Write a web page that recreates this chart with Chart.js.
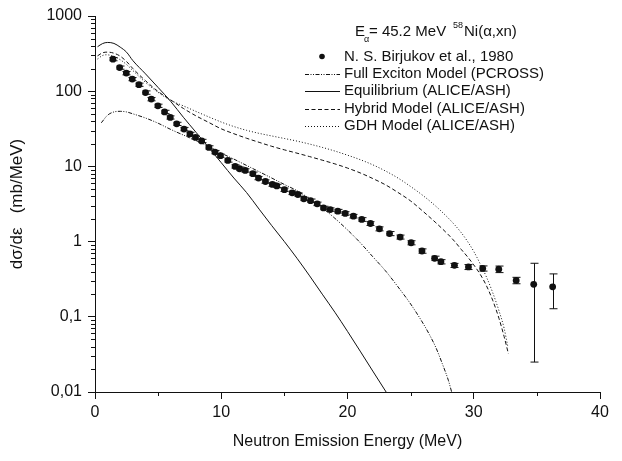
<!DOCTYPE html>
<html><head><meta charset="utf-8">
<script src="https://cdn.jsdelivr.net/npm/chart.js@4.4.0/dist/chart.umd.min.js"></script>
<style>html,body{margin:0;padding:0;background:#fff;}canvas{display:block;}</style>
</head><body>
<canvas id="c" width="622" height="461"></canvas>
<script>
// Experimental data: N. S. Birjukov et al., 1980
const expE = [1.42,1.95,2.48,2.95,3.48,4.0,4.46,4.98,5.51,5.96,6.47,7.05,7.52,7.96,8.45,9.02,9.5,9.94,10.52,11.1,11.45,11.9,12.5,12.95,13.5,14.05,14.4,15.0,15.62,16.07,16.54,17.07,17.6,18.1,18.63,19.23,19.82,20.47,21.13,21.82,22.53,23.33,24.17,25.04,25.9,26.9,27.4,28.47,29.58,30.71,31.98,33.36,34.75,36.25];
const expY = [267,206,174,145,122,96,78.5,64,53,44.8,36.8,31.4,27,24.3,21.8,17.9,15.5,13.9,12.0,10.0,9.3,8.85,8.0,7.0,6.3,5.75,5.5,4.9,4.45,4.23,3.7,3.5,3.18,2.8,2.67,2.54,2.37,2.18,1.97,1.74,1.48,1.28,1.15,0.966,0.75,0.6,0.54,0.483,0.46,0.44,0.43,0.305,0.27,0.25];
const expErr = [13,10,9,7,6,5,4,3.2,2.7,2.2,1.8,1.6,1.4,1.2,1.1,0.9,0.8,0.7,0.6,0.5,0.5,0.45,0.4,0.35,0.32,0.3,0.28,0.25,0.23,0.22,0.19,0.18,0.17,0.15,0.14,0.14,0.13,0.12,0.11,0.1,0.09,0.08,0.07,0.06,0.05,0.04,0.035,0.03,0.035,0.035,0.043,0.03,0.245,0.122];

// Full Exciton Model (PCROSS)
const excE = [0.5,1.0,1.5,2.0,2.5,3.0,4.0,5.0,6.0,7.5,9.0,10,11,12,13,14,15,16,17,18,19,20,21,22,23,24,25,26,26.5,27,27.5,28,28.25];
const excY = [38,48,53,54,53,50,44,37.5,31,24,18.5,15,12.5,10.3,8.5,7.0,5.75,4.75,3.72,2.82,2.04,1.43,0.97,0.63,0.41,0.25,0.148,0.081,0.0575,0.039,0.024,0.0141,0.01];

// Equilibrium (ALICE/ASH)
const eqE = [0.2,0.6,1.0,1.5,2.0,2.5,3,4,5,6,7,8,9,10,11,12,13,14,15,16,17,18,19,20,21,22,23.06];
const eqY = [390,430,445,432,385,330,255,170,112,73,45,28.4,17.9,11.2,7.0,4.5,2.7,1.63,1.0,0.6,0.35,0.2,0.115,0.064,0.035,0.019,0.01];

// Hybrid Model (ALICE/ASH)
const hybE = [0.2,0.6,1.0,1.5,2.0,2.5,3,4,5,6,7,8,9,10,11,12,13,14,15,16,17,18,19,20,21,22,23,24,25,26,27,28,28.5,29,29.5,30,30.5,31,31.5,32,32.4,32.75];
const hybY = [295,324,331,320,292,248,200,138,99,76.5,59,47,38.5,31.6,27.2,23.7,20.9,18.5,16.6,15.0,13.5,12.1,10.8,9.5,8.2,6.9,5.7,4.5,3.47,2.51,1.78,1.23,1.0,0.79,0.63,0.49,0.37,0.26,0.166,0.095,0.055,0.032];

// GDH Model (ALICE/ASH)
const gdhE = [0.2,0.6,0.9,1.5,2.0,2.5,3,4,5,6,7,8,9,10,11,12,13,14,15,16,17,18,19,20,21,22,23,24,25,26,27,28,28.5,29,29.5,30,30.5,31,31.5,32,32.4,32.7];
const gdhY = [268,298,305,290,262,226,188,131,96.5,75.7,63.8,53.8,45.6,38.9,33.9,30.2,27.5,25.4,23.5,21.7,19.8,17.9,16.0,14.1,12.3,10.5,8.7,7.0,5.4,4.07,2.95,2.04,1.66,1.32,1.01,0.74,0.51,0.34,0.21,0.12,0.071,0.04];

const seriesNames = ['N. S. Birjukov et al., 1980','Full Exciton Model (PCROSS)','Equilibrium (ALICE/ASH)','Hybrid Model (ALICE/ASH)','GDH Model (ALICE/ASH)'];
const yTickValues = [0.01,0.1,1,10,100,1000];
const yTickLabels = ['0,01','0,1','1','10','100','1000'];
const xMinorTicks = [5,15,25,35];
const xTitle = 'Neutron Emission Energy (MeV)';
const yTitle = 'd\u03C3/d\u03B5   (mb/MeV)';

const FONT = '"Liberation Sans", Arial, Helvetica, sans-serif';
Chart.defaults.font.family = FONT;
Chart.defaults.color = '#111';

const zip = (xs, ys) => xs.map((x,i)=>({x, y: ys[i]}));

const lineDs = (label, xs, ys, dash) => ({
  label, data: zip(xs, ys), borderColor:'#111', borderWidth:1, borderDash:dash,
  pointRadius:0, showLine:true, fill:false, cubicInterpolationMode:'monotone'
});

const datasets = [
  {label: seriesNames[0], data: zip(expE, expY), showLine:false, pointRadius:3.4,
   pointBackgroundColor:'#111', pointBorderColor:'#111', pointBorderWidth:0, pointStyle:'circle'},
  lineDs(seriesNames[1], excE, excY, [4,1.5,1,1.5,1,1.5]),
  lineDs(seriesNames[2], eqE, eqY, []),
  lineDs(seriesNames[3], hybE, hybY, [4,2.5]),
  lineDs(seriesNames[4], gdhE, gdhY, [1,2])
];

const extras = {
  id:'extras',
  afterDatasetsDraw(chart){
    const ctx = chart.ctx, xs = chart.scales.x, ys = chart.scales.y, area = chart.chartArea;
    ctx.save();
    ctx.strokeStyle = '#111'; ctx.lineWidth = 1; ctx.setLineDash([]);
    // error bars
    chart.data.datasets[0].data.forEach((p,i)=>{
      const e = expErr[i];
      const px = Math.round(xs.getPixelForValue(p.x)) + 0.5;
      const lo = ys.getPixelForValue(Math.max(p.y - e, 0.0101));
      const hi = ys.getPixelForValue(p.y + e);
      ctx.beginPath();
      ctx.moveTo(px, lo); ctx.lineTo(px, hi);
      ctx.moveTo(px-4, lo); ctx.lineTo(px+4, lo);
      ctx.moveTo(px-4, hi); ctx.lineTo(px+4, hi);
      ctx.stroke();
    });
    // minor ticks
    ctx.beginPath();
    for (let d = -2; d < 3; d++) {
      for (let k = 2; k < 10; k++) {
        const v = k * Math.pow(10, d);
        const py = Math.round(ys.getPixelForValue(v)) + 0.5;
        ctx.moveTo(area.left - 4, py); ctx.lineTo(area.left, py);
      }
    }
    xMinorTicks.forEach(v=>{
      const px = Math.round(xs.getPixelForValue(v)) + 0.5;
      ctx.moveTo(px, area.bottom); ctx.lineTo(px, area.bottom + 4);
    });
    ctx.stroke();

    // annotation + legend
    ctx.fillStyle = '#111';
    ctx.textBaseline = 'middle';
    ctx.textAlign = 'left';
    ctx.font = '15px ' + FONT;
    const tx = 355, ty = 32;
    ctx.fillText('E', tx, ty);
    ctx.font = '9px ' + FONT;
    ctx.fillText('\u03B1', tx + 9, ty + 8);
    ctx.font = '15px ' + FONT;
    ctx.fillText('= 45.2 MeV', tx + 14, ty);
    ctx.font = '9px ' + FONT;
    ctx.fillText('58', 453, ty - 6);
    ctx.font = '15px ' + FONT;
    ctx.fillText('Ni(\u03B1,xn)', 464, ty);

    const rowY0 = 56.5, rowDy = 17.4, textX = 344, symX0 = 305, symX1 = 340;
    seriesNames.forEach((name, i)=>{
      const y = rowY0 + i * rowDy;
      const ds = chart.data.datasets[i];
      if (i === 0) {
        ctx.beginPath(); ctx.arc(322, y, 2.8, 0, Math.PI*2); ctx.fill();
      } else {
        ctx.save();
        ctx.setLineDash(ds.borderDash);
        ctx.beginPath(); ctx.moveTo(symX0, Math.round(y)+0.5); ctx.lineTo(symX1, Math.round(y)+0.5); ctx.stroke();
        ctx.restore();
      }
      ctx.fillText(name, textX, y);
    });
    ctx.restore();
  }
};

new Chart(document.getElementById('c'), {
  type:'scatter',
  data:{datasets},
  options:{
    responsive:false, animation:false, devicePixelRatio:1,
    layout:{padding:{left:0, right:22, top:16, bottom:0}},
    plugins:{legend:{display:false}, tooltip:{enabled:false}},
    scales:{
      x:{
        type:'linear', min:0, max:40,
        ticks:{stepSize:10, font:{size:16}, color:'#111', padding:4},
        grid:{display:true, drawOnChartArea:false, drawTicks:true, tickLength:7, color:'#111'},
        border:{display:true, color:'#111', width:1},
        title:{display:true, text:xTitle, font:{size:16}, color:'#111', padding:{top:0,bottom:10}},
        afterFit(s){ s.height = 69; }
      },
      y:{
        type:'logarithmic', min:0.01, max:1000,
        afterBuildTicks(s){ s.ticks = yTickValues.map(v=>({value:v, major:true})); },
        ticks:{font:{size:16}, color:'#111', padding:6,
          callback:(v)=>{ const i = yTickValues.findIndex(t=>Math.abs(t-v)/t < 1e-6); return i>=0 ? yTickLabels[i] : ''; }},
        grid:{display:true, drawOnChartArea:false, drawTicks:true, tickLength:7, color:'#111'},
        border:{display:true, color:'#111', width:1},
        title:{display:true, text:yTitle, font:{size:17}, color:'#111', padding:{top:7,bottom:0}},
        afterFit(s){ s.width = 95; }
      }
    }
  },
  plugins:[extras]
});
</script>
</body></html>
